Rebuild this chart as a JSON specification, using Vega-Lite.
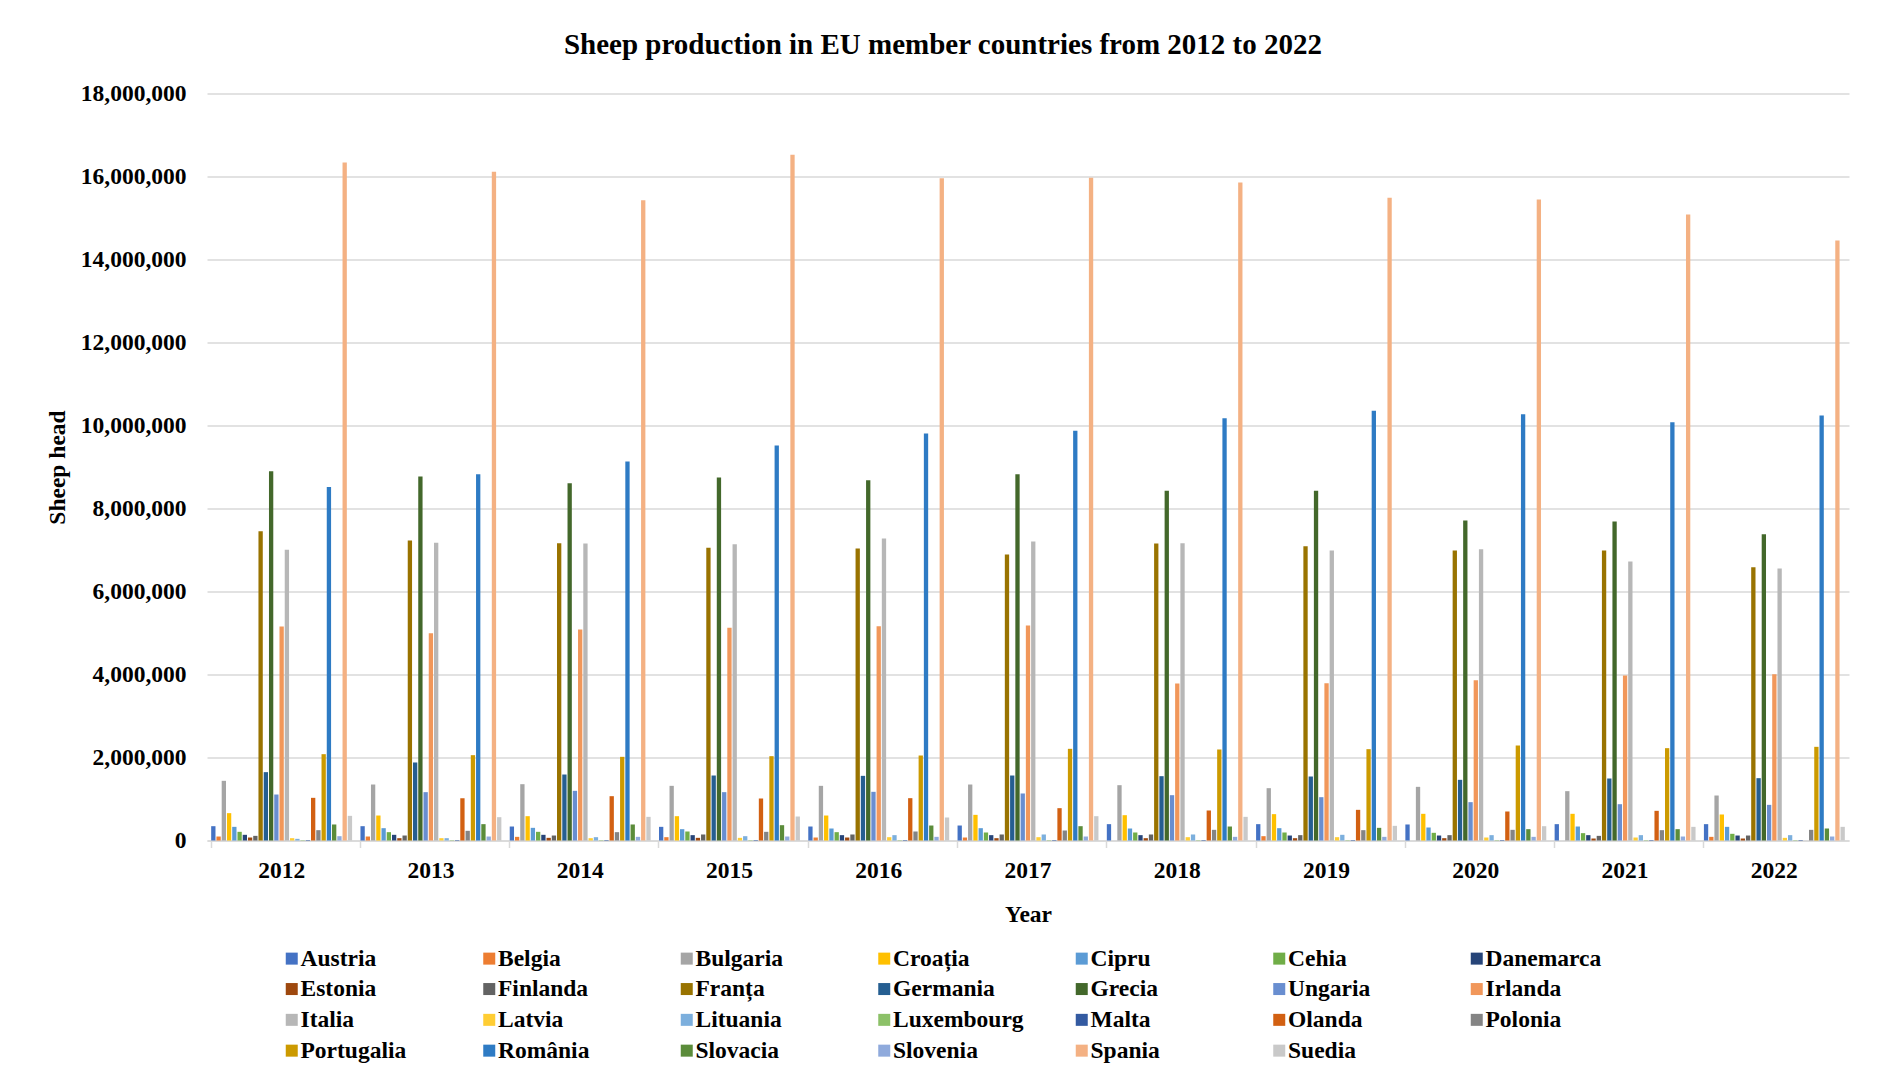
{
  "$schema": "https://vega.github.io/schema/vega-lite/v6.json",
  "width": 1642,
  "height": 747,
  "autosize": {"type": "none"},
  "padding": {"left": 207, "top": 93.5, "right": 31, "bottom": 245.5},
  "background": "white",
  "title": {
    "text": "Sheep production in EU member countries from 2012 to 2022",
    "font": "Liberation Serif",
    "fontSize": 29,
    "fontWeight": "bold",
    "color": "#000000",
    "anchor": "middle",
    "frame": "group",
    "dx": -85,
    "offset": 22
  },
  "data": {
    "values": [
      {"year": "2012", "country": "Austria", "sheep": 345000},
      {"year": "2012", "country": "Belgia", "sheep": 96000},
      {"year": "2012", "country": "Bulgaria", "sheep": 1438000},
      {"year": "2012", "country": "Croația", "sheep": 659000},
      {"year": "2012", "country": "Cipru", "sheep": 329000},
      {"year": "2012", "country": "Cehia", "sheep": 209000},
      {"year": "2012", "country": "Danemarca", "sheep": 137000},
      {"year": "2012", "country": "Estonia", "sheep": 72000},
      {"year": "2012", "country": "Finlanda", "sheep": 112000},
      {"year": "2012", "country": "Franța", "sheep": 7454000},
      {"year": "2012", "country": "Germania", "sheep": 1647000},
      {"year": "2012", "country": "Grecia", "sheep": 8900000},
      {"year": "2012", "country": "Ungaria", "sheep": 1108000},
      {"year": "2012", "country": "Irlanda", "sheep": 5157000},
      {"year": "2012", "country": "Italia", "sheep": 7004000},
      {"year": "2012", "country": "Latvia", "sheep": 56000},
      {"year": "2012", "country": "Lituania", "sheep": 40000},
      {"year": "2012", "country": "Luxembourg", "sheep": 9000},
      {"year": "2012", "country": "Malta", "sheep": 12000},
      {"year": "2012", "country": "Olanda", "sheep": 1028000},
      {"year": "2012", "country": "Polonia", "sheep": 249000},
      {"year": "2012", "country": "Portugalia", "sheep": 2080000},
      {"year": "2012", "country": "România", "sheep": 8520000},
      {"year": "2012", "country": "Slovacia", "sheep": 386000},
      {"year": "2012", "country": "Slovenia", "sheep": 104000},
      {"year": "2012", "country": "Spania", "sheep": 16337000},
      {"year": "2012", "country": "Suedia", "sheep": 594000},

      {"year": "2013", "country": "Austria", "sheep": 345000},
      {"year": "2013", "country": "Belgia", "sheep": 96000},
      {"year": "2013", "country": "Bulgaria", "sheep": 1349000},
      {"year": "2013", "country": "Croația", "sheep": 602000},
      {"year": "2013", "country": "Cipru", "sheep": 297000},
      {"year": "2013", "country": "Cehia", "sheep": 201000},
      {"year": "2013", "country": "Danemarca", "sheep": 137000},
      {"year": "2013", "country": "Estonia", "sheep": 56000},
      {"year": "2013", "country": "Finlanda", "sheep": 120000},
      {"year": "2013", "country": "Franța", "sheep": 7229000},
      {"year": "2013", "country": "Germania", "sheep": 1880000},
      {"year": "2013", "country": "Grecia", "sheep": 8771000},
      {"year": "2013", "country": "Ungaria", "sheep": 1165000},
      {"year": "2013", "country": "Irlanda", "sheep": 4996000},
      {"year": "2013", "country": "Italia", "sheep": 7173000},
      {"year": "2013", "country": "Latvia", "sheep": 56000},
      {"year": "2013", "country": "Lituania", "sheep": 56000},
      {"year": "2013", "country": "Luxembourg", "sheep": 9000},
      {"year": "2013", "country": "Malta", "sheep": 12000},
      {"year": "2013", "country": "Olanda", "sheep": 1020000},
      {"year": "2013", "country": "Polonia", "sheep": 233000},
      {"year": "2013", "country": "Portugalia", "sheep": 2056000},
      {"year": "2013", "country": "România", "sheep": 8827000},
      {"year": "2013", "country": "Slovacia", "sheep": 394000},
      {"year": "2013", "country": "Slovenia", "sheep": 96000},
      {"year": "2013", "country": "Spania", "sheep": 16112000},
      {"year": "2013", "country": "Suedia", "sheep": 562000},

      {"year": "2014", "country": "Austria", "sheep": 337000},
      {"year": "2014", "country": "Belgia", "sheep": 88000},
      {"year": "2014", "country": "Bulgaria", "sheep": 1357000},
      {"year": "2014", "country": "Croația", "sheep": 586000},
      {"year": "2014", "country": "Cipru", "sheep": 305000},
      {"year": "2014", "country": "Cehia", "sheep": 209000},
      {"year": "2014", "country": "Danemarca", "sheep": 137000},
      {"year": "2014", "country": "Estonia", "sheep": 64000},
      {"year": "2014", "country": "Finlanda", "sheep": 120000},
      {"year": "2014", "country": "Franța", "sheep": 7165000},
      {"year": "2014", "country": "Germania", "sheep": 1590000},
      {"year": "2014", "country": "Grecia", "sheep": 8610000},
      {"year": "2014", "country": "Ungaria", "sheep": 1197000},
      {"year": "2014", "country": "Irlanda", "sheep": 5084000},
      {"year": "2014", "country": "Italia", "sheep": 7157000},
      {"year": "2014", "country": "Latvia", "sheep": 56000},
      {"year": "2014", "country": "Lituania", "sheep": 80000},
      {"year": "2014", "country": "Luxembourg", "sheep": 9000},
      {"year": "2014", "country": "Malta", "sheep": 12000},
      {"year": "2014", "country": "Olanda", "sheep": 1068000},
      {"year": "2014", "country": "Polonia", "sheep": 201000},
      {"year": "2014", "country": "Portugalia", "sheep": 2016000},
      {"year": "2014", "country": "România", "sheep": 9133000},
      {"year": "2014", "country": "Slovacia", "sheep": 386000},
      {"year": "2014", "country": "Slovenia", "sheep": 88000},
      {"year": "2014", "country": "Spania", "sheep": 15430000},
      {"year": "2014", "country": "Suedia", "sheep": 570000},

      {"year": "2015", "country": "Austria", "sheep": 329000},
      {"year": "2015", "country": "Belgia", "sheep": 80000},
      {"year": "2015", "country": "Bulgaria", "sheep": 1317000},
      {"year": "2015", "country": "Croația", "sheep": 586000},
      {"year": "2015", "country": "Cipru", "sheep": 273000},
      {"year": "2015", "country": "Cehia", "sheep": 217000},
      {"year": "2015", "country": "Danemarca", "sheep": 129000},
      {"year": "2015", "country": "Estonia", "sheep": 64000},
      {"year": "2015", "country": "Finlanda", "sheep": 145000},
      {"year": "2015", "country": "Franța", "sheep": 7052000},
      {"year": "2015", "country": "Germania", "sheep": 1566000},
      {"year": "2015", "country": "Grecia", "sheep": 8747000},
      {"year": "2015", "country": "Ungaria", "sheep": 1165000},
      {"year": "2015", "country": "Irlanda", "sheep": 5124000},
      {"year": "2015", "country": "Italia", "sheep": 7140000},
      {"year": "2015", "country": "Latvia", "sheep": 64000},
      {"year": "2015", "country": "Lituania", "sheep": 104000},
      {"year": "2015", "country": "Luxembourg", "sheep": 9000},
      {"year": "2015", "country": "Malta", "sheep": 12000},
      {"year": "2015", "country": "Olanda", "sheep": 1012000},
      {"year": "2015", "country": "Polonia", "sheep": 209000},
      {"year": "2015", "country": "Portugalia", "sheep": 2032000},
      {"year": "2015", "country": "România", "sheep": 9518000},
      {"year": "2015", "country": "Slovacia", "sheep": 369000},
      {"year": "2015", "country": "Slovenia", "sheep": 96000},
      {"year": "2015", "country": "Spania", "sheep": 16522000},
      {"year": "2015", "country": "Suedia", "sheep": 578000},

      {"year": "2016", "country": "Austria", "sheep": 337000},
      {"year": "2016", "country": "Belgia", "sheep": 72000},
      {"year": "2016", "country": "Bulgaria", "sheep": 1317000},
      {"year": "2016", "country": "Croația", "sheep": 602000},
      {"year": "2016", "country": "Cipru", "sheep": 289000},
      {"year": "2016", "country": "Cehia", "sheep": 201000},
      {"year": "2016", "country": "Danemarca", "sheep": 129000},
      {"year": "2016", "country": "Estonia", "sheep": 72000},
      {"year": "2016", "country": "Finlanda", "sheep": 145000},
      {"year": "2016", "country": "Franța", "sheep": 7036000},
      {"year": "2016", "country": "Germania", "sheep": 1558000},
      {"year": "2016", "country": "Grecia", "sheep": 8683000},
      {"year": "2016", "country": "Ungaria", "sheep": 1173000},
      {"year": "2016", "country": "Irlanda", "sheep": 5165000},
      {"year": "2016", "country": "Italia", "sheep": 7277000},
      {"year": "2016", "country": "Latvia", "sheep": 80000},
      {"year": "2016", "country": "Lituania", "sheep": 129000},
      {"year": "2016", "country": "Luxembourg", "sheep": 9000},
      {"year": "2016", "country": "Malta", "sheep": 12000},
      {"year": "2016", "country": "Olanda", "sheep": 1020000},
      {"year": "2016", "country": "Polonia", "sheep": 217000},
      {"year": "2016", "country": "Portugalia", "sheep": 2048000},
      {"year": "2016", "country": "România", "sheep": 9807000},
      {"year": "2016", "country": "Slovacia", "sheep": 361000},
      {"year": "2016", "country": "Slovenia", "sheep": 88000},
      {"year": "2016", "country": "Spania", "sheep": 15960000},
      {"year": "2016", "country": "Suedia", "sheep": 554000},

      {"year": "2017", "country": "Austria", "sheep": 361000},
      {"year": "2017", "country": "Belgia", "sheep": 72000},
      {"year": "2017", "country": "Bulgaria", "sheep": 1349000},
      {"year": "2017", "country": "Croația", "sheep": 618000},
      {"year": "2017", "country": "Cipru", "sheep": 297000},
      {"year": "2017", "country": "Cehia", "sheep": 193000},
      {"year": "2017", "country": "Danemarca", "sheep": 129000},
      {"year": "2017", "country": "Estonia", "sheep": 56000},
      {"year": "2017", "country": "Finlanda", "sheep": 145000},
      {"year": "2017", "country": "Franța", "sheep": 6891000},
      {"year": "2017", "country": "Germania", "sheep": 1566000},
      {"year": "2017", "country": "Grecia", "sheep": 8827000},
      {"year": "2017", "country": "Ungaria", "sheep": 1133000},
      {"year": "2017", "country": "Irlanda", "sheep": 5181000},
      {"year": "2017", "country": "Italia", "sheep": 7205000},
      {"year": "2017", "country": "Latvia", "sheep": 80000},
      {"year": "2017", "country": "Lituania", "sheep": 145000},
      {"year": "2017", "country": "Luxembourg", "sheep": 9000},
      {"year": "2017", "country": "Malta", "sheep": 12000},
      {"year": "2017", "country": "Olanda", "sheep": 779000},
      {"year": "2017", "country": "Polonia", "sheep": 241000},
      {"year": "2017", "country": "Portugalia", "sheep": 2209000},
      {"year": "2017", "country": "România", "sheep": 9871000},
      {"year": "2017", "country": "Slovacia", "sheep": 345000},
      {"year": "2017", "country": "Slovenia", "sheep": 96000},
      {"year": "2017", "country": "Spania", "sheep": 15968000},
      {"year": "2017", "country": "Suedia", "sheep": 586000},

      {"year": "2018", "country": "Austria", "sheep": 394000},
      {"year": "2018", "country": "Bulgaria", "sheep": 1333000},
      {"year": "2018", "country": "Croația", "sheep": 610000},
      {"year": "2018", "country": "Cipru", "sheep": 289000},
      {"year": "2018", "country": "Cehia", "sheep": 193000},
      {"year": "2018", "country": "Danemarca", "sheep": 129000},
      {"year": "2018", "country": "Estonia", "sheep": 56000},
      {"year": "2018", "country": "Finlanda", "sheep": 145000},
      {"year": "2018", "country": "Franța", "sheep": 7157000},
      {"year": "2018", "country": "Germania", "sheep": 1550000},
      {"year": "2018", "country": "Grecia", "sheep": 8426000},
      {"year": "2018", "country": "Ungaria", "sheep": 1092000},
      {"year": "2018", "country": "Irlanda", "sheep": 3783000},
      {"year": "2018", "country": "Italia", "sheep": 7165000},
      {"year": "2018", "country": "Latvia", "sheep": 80000},
      {"year": "2018", "country": "Lituania", "sheep": 145000},
      {"year": "2018", "country": "Luxembourg", "sheep": 9000},
      {"year": "2018", "country": "Malta", "sheep": 12000},
      {"year": "2018", "country": "Olanda", "sheep": 723000},
      {"year": "2018", "country": "Polonia", "sheep": 257000},
      {"year": "2018", "country": "Portugalia", "sheep": 2193000},
      {"year": "2018", "country": "România", "sheep": 10177000},
      {"year": "2018", "country": "Slovacia", "sheep": 337000},
      {"year": "2018", "country": "Slovenia", "sheep": 88000},
      {"year": "2018", "country": "Spania", "sheep": 15855000},
      {"year": "2018", "country": "Suedia", "sheep": 570000},

      {"year": "2019", "country": "Austria", "sheep": 394000},
      {"year": "2019", "country": "Belgia", "sheep": 104000},
      {"year": "2019", "country": "Bulgaria", "sheep": 1261000},
      {"year": "2019", "country": "Croația", "sheep": 635000},
      {"year": "2019", "country": "Cipru", "sheep": 297000},
      {"year": "2019", "country": "Cehia", "sheep": 193000},
      {"year": "2019", "country": "Danemarca", "sheep": 120000},
      {"year": "2019", "country": "Estonia", "sheep": 56000},
      {"year": "2019", "country": "Finlanda", "sheep": 129000},
      {"year": "2019", "country": "Franța", "sheep": 7092000},
      {"year": "2019", "country": "Germania", "sheep": 1542000},
      {"year": "2019", "country": "Grecia", "sheep": 8426000},
      {"year": "2019", "country": "Ungaria", "sheep": 1044000},
      {"year": "2019", "country": "Irlanda", "sheep": 3791000},
      {"year": "2019", "country": "Italia", "sheep": 6988000},
      {"year": "2019", "country": "Latvia", "sheep": 80000},
      {"year": "2019", "country": "Lituania", "sheep": 137000},
      {"year": "2019", "country": "Luxembourg", "sheep": 9000},
      {"year": "2019", "country": "Malta", "sheep": 12000},
      {"year": "2019", "country": "Olanda", "sheep": 739000},
      {"year": "2019", "country": "Polonia", "sheep": 249000},
      {"year": "2019", "country": "Portugalia", "sheep": 2201000},
      {"year": "2019", "country": "România", "sheep": 10354000},
      {"year": "2019", "country": "Slovacia", "sheep": 305000},
      {"year": "2019", "country": "Slovenia", "sheep": 88000},
      {"year": "2019", "country": "Spania", "sheep": 15486000},
      {"year": "2019", "country": "Suedia", "sheep": 353000},

      {"year": "2020", "country": "Austria", "sheep": 386000},
      {"year": "2020", "country": "Bulgaria", "sheep": 1293000},
      {"year": "2020", "country": "Croația", "sheep": 643000},
      {"year": "2020", "country": "Cipru", "sheep": 313000},
      {"year": "2020", "country": "Cehia", "sheep": 185000},
      {"year": "2020", "country": "Danemarca", "sheep": 120000},
      {"year": "2020", "country": "Estonia", "sheep": 56000},
      {"year": "2020", "country": "Finlanda", "sheep": 129000},
      {"year": "2020", "country": "Franța", "sheep": 6988000},
      {"year": "2020", "country": "Germania", "sheep": 1462000},
      {"year": "2020", "country": "Grecia", "sheep": 7711000},
      {"year": "2020", "country": "Ungaria", "sheep": 924000},
      {"year": "2020", "country": "Irlanda", "sheep": 3863000},
      {"year": "2020", "country": "Italia", "sheep": 7020000},
      {"year": "2020", "country": "Latvia", "sheep": 72000},
      {"year": "2020", "country": "Lituania", "sheep": 129000},
      {"year": "2020", "country": "Luxembourg", "sheep": 9000},
      {"year": "2020", "country": "Malta", "sheep": 12000},
      {"year": "2020", "country": "Olanda", "sheep": 699000},
      {"year": "2020", "country": "Polonia", "sheep": 257000},
      {"year": "2020", "country": "Portugalia", "sheep": 2289000},
      {"year": "2020", "country": "România", "sheep": 10273000},
      {"year": "2020", "country": "Slovacia", "sheep": 273000},
      {"year": "2020", "country": "Slovenia", "sheep": 88000},
      {"year": "2020", "country": "Spania", "sheep": 15446000},
      {"year": "2020", "country": "Suedia", "sheep": 345000},

      {"year": "2021", "country": "Austria", "sheep": 394000},
      {"year": "2021", "country": "Bulgaria", "sheep": 1189000},
      {"year": "2021", "country": "Croația", "sheep": 643000},
      {"year": "2021", "country": "Cipru", "sheep": 337000},
      {"year": "2021", "country": "Cehia", "sheep": 177000},
      {"year": "2021", "country": "Danemarca", "sheep": 129000},
      {"year": "2021", "country": "Estonia", "sheep": 48000},
      {"year": "2021", "country": "Finlanda", "sheep": 112000},
      {"year": "2021", "country": "Franța", "sheep": 6988000},
      {"year": "2021", "country": "Germania", "sheep": 1494000},
      {"year": "2021", "country": "Grecia", "sheep": 7687000},
      {"year": "2021", "country": "Ungaria", "sheep": 875000},
      {"year": "2021", "country": "Irlanda", "sheep": 3976000},
      {"year": "2021", "country": "Italia", "sheep": 6723000},
      {"year": "2021", "country": "Latvia", "sheep": 72000},
      {"year": "2021", "country": "Lituania", "sheep": 129000},
      {"year": "2021", "country": "Luxembourg", "sheep": 9000},
      {"year": "2021", "country": "Malta", "sheep": 12000},
      {"year": "2021", "country": "Olanda", "sheep": 715000},
      {"year": "2021", "country": "Polonia", "sheep": 249000},
      {"year": "2021", "country": "Portugalia", "sheep": 2225000},
      {"year": "2021", "country": "România", "sheep": 10080000},
      {"year": "2021", "country": "Slovacia", "sheep": 273000},
      {"year": "2021", "country": "Slovenia", "sheep": 96000},
      {"year": "2021", "country": "Spania", "sheep": 15084000},
      {"year": "2021", "country": "Suedia", "sheep": 329000},

      {"year": "2022", "country": "Austria", "sheep": 394000},
      {"year": "2022", "country": "Belgia", "sheep": 88000},
      {"year": "2022", "country": "Bulgaria", "sheep": 1084000},
      {"year": "2022", "country": "Croația", "sheep": 627000},
      {"year": "2022", "country": "Cipru", "sheep": 329000},
      {"year": "2022", "country": "Cehia", "sheep": 161000},
      {"year": "2022", "country": "Danemarca", "sheep": 120000},
      {"year": "2022", "country": "Estonia", "sheep": 48000},
      {"year": "2022", "country": "Finlanda", "sheep": 120000},
      {"year": "2022", "country": "Franța", "sheep": 6586000},
      {"year": "2022", "country": "Germania", "sheep": 1502000},
      {"year": "2022", "country": "Grecia", "sheep": 7381000},
      {"year": "2022", "country": "Ungaria", "sheep": 859000},
      {"year": "2022", "country": "Irlanda", "sheep": 4008000},
      {"year": "2022", "country": "Italia", "sheep": 6554000},
      {"year": "2022", "country": "Latvia", "sheep": 64000},
      {"year": "2022", "country": "Lituania", "sheep": 129000},
      {"year": "2022", "country": "Luxembourg", "sheep": 9000},
      {"year": "2022", "country": "Malta", "sheep": 12000},
      {"year": "2022", "country": "Polonia", "sheep": 257000},
      {"year": "2022", "country": "Portugalia", "sheep": 2257000},
      {"year": "2022", "country": "România", "sheep": 10241000},
      {"year": "2022", "country": "Slovacia", "sheep": 289000},
      {"year": "2022", "country": "Slovenia", "sheep": 96000},
      {"year": "2022", "country": "Spania", "sheep": 14458000},
      {"year": "2022", "country": "Suedia", "sheep": 329000}
    ]
  },
  "mark": {"type": "bar"},
  "encoding": {
    "x": {
      "field": "year",
      "type": "nominal",
      "scale": {"paddingInner": 0.056, "paddingOuter": 0.028},
      "axis": {
        "title": "Year",
        "labelAngle": 0,
        "bandPosition": 0,
        "domainColor": "#d9d9d9",
        "domainWidth": 1.5,
        "ticks": true,
        "tickColor": "#d9d9d9",
        "tickWidth": 1.5,
        "tickSize": 7,
        "labelPadding": 11,
        "titlePadding": 20,
        "grid": false
      }
    },
    "xOffset": {
      "field": "country",
      "type": "nominal",
      "sort": ["Austria", "Belgia", "Bulgaria", "Croația", "Cipru", "Cehia", "Danemarca", "Estonia", "Finlanda", "Franța", "Germania", "Grecia", "Ungaria", "Irlanda", "Italia", "Latvia", "Lituania", "Luxembourg", "Malta", "Olanda", "Polonia", "Portugalia", "România", "Slovacia", "Slovenia", "Spania", "Suedia"],
      "scale": {"paddingInner": 0.18, "paddingOuter": 0}
    },
    "y": {
      "field": "sheep",
      "type": "quantitative",
      "scale": {"domain": [0, 18000000], "nice": false},
      "axis": {
        "title": "Sheep head",
        "values": [0, 2000000, 4000000, 6000000, 8000000, 10000000, 12000000, 14000000, 16000000, 18000000],
        "format": ",d",
        "domain": false,
        "ticks": false,
        "grid": true,
        "gridColor": "#d9d9d9",
        "gridWidth": 1.4,
        "labelPadding": 21,
        "titlePadding": 11
      }
    },
    "color": {
      "field": "country",
      "type": "nominal",
      "scale": {
        "domain": ["Austria", "Belgia", "Bulgaria", "Croația", "Cipru", "Cehia", "Danemarca", "Estonia", "Finlanda", "Franța", "Germania", "Grecia", "Ungaria", "Irlanda", "Italia", "Latvia", "Lituania", "Luxembourg", "Malta", "Olanda", "Polonia", "Portugalia", "România", "Slovacia", "Slovenia", "Spania", "Suedia"],
        "range": ["#4472c4", "#ed7d31", "#a5a5a5", "#ffc000", "#5b9bd5", "#70ad47", "#264478", "#9e480e", "#636363", "#997300", "#255e91", "#43682b", "#698ed0", "#f1975a", "#b7b7b7", "#ffcd33", "#7cafdd", "#8cc168", "#335aa1", "#d26012", "#848484", "#cc9a00", "#2e7bc4", "#5b8c3a", "#8faadc", "#f4b183", "#c9c9c9"]
      },
      "legend": {
        "title": null,
        "orient": "none",
        "legendX": 73,
        "legendY": 853,
        "direction": "horizontal",
        "columns": 7,
        "gridAlign": "all",
        "columnPadding": 45.5,
        "rowPadding": 5.8,
        "padding": 0,
        "symbolType": "square",
        "symbolSize": 144,
        "symbolStrokeWidth": 0,
        "labelOffset": -3,
        "labelFontSize": 23.5,
        "labelFontWeight": "bold",
        "labelColor": "#000000",
        "labelLimit": 200
      }
    }
  },
  "config": {
    "view": {"stroke": null},
    "font": "Liberation Serif",
    "axis": {
      "labelFont": "Liberation Serif",
      "labelFontSize": 23.5,
      "labelFontWeight": "bold",
      "labelColor": "#000000",
      "titleFont": "Liberation Serif",
      "titleFontSize": 23.5,
      "titleFontWeight": "bold",
      "titleColor": "#000000"
    },
    "legend": {"labelFont": "Liberation Serif"}
  }
}
